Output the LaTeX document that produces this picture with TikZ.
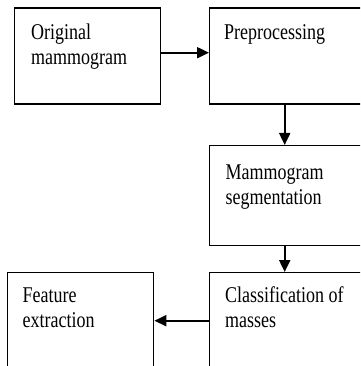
\documentclass[tikz,border=0pt]{standalone}
\usepackage{fontspec}
\usetikzlibrary{arrows.meta}
\newfontfamily\tnr[FakeStretch=0.8]{Liberation Serif}
\tikzset{
  box/.style={draw, line width=1.4pt, anchor=north west, inner sep=0pt},
  lbl/.style={anchor=base west, inner sep=0pt, font=\tnr\fontsize{22.5}{25}\selectfont},
  arr/.style={line width=2pt, -{Triangle[length=12pt,width=11pt]}}
}
\newcommand{\twolines}[2]{\parbox[t]{150pt}{#1\\#2}}
\begin{document}
\begin{tikzpicture}[x=1pt,y=-1pt]
\useasboundingbox (0,0) rectangle (360,366);
\clip (0,0) rectangle (360,366);
% boxes
\node[box, minimum width=146pt, minimum height=96pt] (b1) at (14,7.5) {};
\node[box, minimum width=152pt, minimum height=96pt] (b2) at (209,7.5) {};
\node[box, minimum width=152pt, minimum height=100pt] (b3) at (209,145) {};
\node[box, minimum width=152pt, minimum height=96pt] (b4) at (209,272) {};
\node[box, minimum width=146pt, minimum height=96pt] (b5) at (7,272) {};
% labels
\node[lbl] (t1) at (31,40) {\twolines{Original}{mammogram}};
\node[lbl] (t2) at (224,39.5) {Preprocessing};
\node[lbl] (t3) at (225.5,179) {\twolines{Mammogram}{segmentation}};
\node[lbl] (t4) at (225,302) {\twolines{Classification of}{masses}};
\node[lbl] (t5) at (22.5,302) {\twolines{Feature}{extraction}};
% connectors
\draw[arr] ([yshift=3.5pt]b1.east) -- ([yshift=3.5pt]b2.west);
\draw[arr] ([xshift=-1pt]b2.south) -- ([xshift=-1pt]b3.north);
\draw[arr] ([xshift=-1pt]b3.south) -- ([xshift=-1pt]b4.north);
\draw[arr] (b4.west) -- (b5.east);
\end{tikzpicture}
\end{document}
